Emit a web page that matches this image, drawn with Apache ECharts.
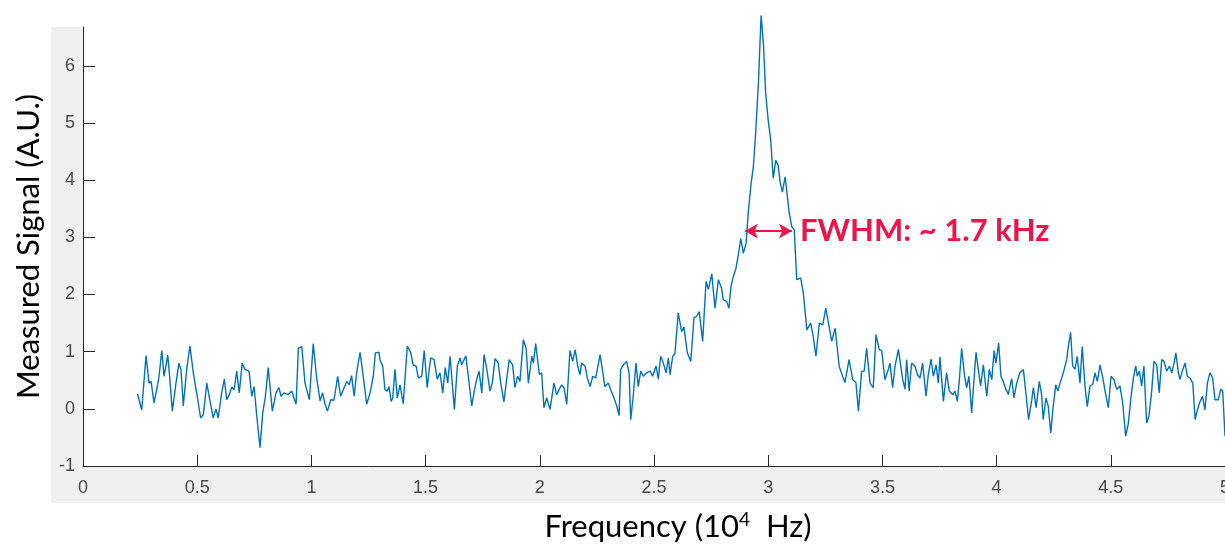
<!DOCTYPE html>
<html>
<head>
<meta charset="utf-8">
<script src="https://cdn.jsdelivr.net/npm/echarts@6/dist/echarts.min.js"></script>
<style>
html,body{margin:0;padding:0;background:#fff;}
#chart{width:1225px;height:546px;}
</style>
</head>
<body>
<div id="chart"></div>
<script>
// Frequency in units of 10^4 Hz
const freq = [
0.239,0.257,0.276,0.289,0.298,0.311,0.325,0.333,0.345,0.355,0.371,0.378,0.391,0.407,0.420,0.429,0.439,0.454,0.468,0.483,
0.500,0.515,0.527,0.542,0.556,0.570,0.582,0.592,0.607,0.619,0.629,0.641,0.651,0.662,0.673,0.684,0.697,0.709,0.727,0.739,
0.749,0.761,0.775,0.787,0.798,0.811,0.829,0.845,0.858,0.867,0.880,0.899,0.914,0.921,0.933,0.943,0.958,0.972,0.991,1.008,
1.023,1.038,1.049,1.060,1.070,1.085,1.099,1.115,1.128,1.140,1.155,1.166,1.176,1.187,1.198,1.213,1.227,1.242,1.257,1.271,
1.280,1.296,1.300,1.312,1.322,1.332,1.340,1.349,1.356,1.366,1.376,1.388,1.402,1.420,1.435,1.446,1.458,1.468,1.483,1.494,
1.507,1.522,1.537,1.551,1.563,1.575,1.586,1.597,1.607,1.626,1.639,1.651,1.658,1.676,1.687,1.702,1.713,1.724,1.734,1.746,
1.756,1.768,1.782,1.792,1.804,1.818,1.829,1.843,1.855,1.866,1.881,1.891,1.903,1.913,1.928,1.940,1.950,1.965,1.972,1.982,
1.998,2.008,2.018,2.030,2.045,2.062,2.074,2.085,2.096,2.106,2.118,2.132,2.144,2.155,2.166,2.176,2.183,2.198,2.208,2.220,
2.232,2.245,2.264,2.275,2.285,2.300,2.310,2.322,2.337,2.347,2.354,2.366,2.380,2.391,2.398,2.409,2.421,2.431,2.442,2.453,
2.468,2.483,2.494,2.509,2.519,2.529,2.541,2.553,2.563,2.570,2.582,2.592,2.606,2.621,2.631,2.646,2.661,2.675,2.687,2.698,
2.713,2.728,2.738,2.753,2.767,2.782,2.796,2.803,2.818,2.828,2.837,2.847,2.859,2.869,2.880,2.891,2.903,2.913,2.925,2.935,
2.945,2.957,2.969,2.979,2.989,3.000,3.011,3.022,3.033,3.044,3.052,3.062,3.074,3.084,3.091,3.103,3.114,3.125,3.142,3.154,
3.169,3.186,3.197,3.209,3.224,3.239,3.252,3.266,3.278,3.293,3.311,3.326,3.336,3.354,3.370,3.384,3.395,3.409,3.420,3.431,
3.446,3.460,3.472,3.486,3.497,3.511,3.526,3.533,3.545,3.555,3.570,3.589,3.599,3.606,3.617,3.628,3.643,3.653,3.665,3.676,
3.691,3.701,3.713,3.723,3.735,3.745,3.752,3.767,3.781,3.793,3.808,3.818,3.828,3.837,3.847,3.859,3.869,3.879,3.891,3.901,
3.910,3.920,3.930,3.942,3.957,3.968,3.979,3.989,3.997,4.009,4.019,4.029,4.041,4.051,4.066,4.076,4.088,4.102,4.117,4.129,
4.140,4.154,4.161,4.173,4.187,4.197,4.204,4.216,4.226,4.237,4.248,4.259,4.268,4.278,4.292,4.307,4.314,4.324,4.333,4.343,
4.353,4.365,4.375,4.387,4.397,4.409,4.421,4.431,4.441,4.453,4.465,4.475,4.489,4.501,4.514,4.526,4.540,4.552,4.565,4.577,
4.587,4.599,4.609,4.616,4.625,4.635,4.645,4.657,4.667,4.679,4.689,4.701,4.712,4.723,4.733,4.745,4.757,4.767,4.777,4.785,
4.796,4.803,4.815,4.825,4.835,4.847,4.859,4.869,4.879,4.891,4.902,4.912,4.923,4.934,4.946,4.956,4.971,4.981,4.990,5.000
];
// Measured signal (A.U.)
const signal = [
0.26,-0.02,0.93,0.45,0.48,0.10,0.39,0.57,1.02,0.57,0.94,0.63,-0.04,0.45,0.80,0.69,0.05,0.69,1.10,0.63,
0.22,-0.16,-0.10,0.45,0.14,-0.16,0.00,-0.16,0.28,0.52,0.16,0.25,0.38,0.34,0.66,0.28,0.80,0.69,0.66,0.22,
0.39,-0.13,-0.68,-0.07,0.20,0.72,-0.04,0.28,0.37,0.22,0.28,0.25,0.31,0.22,0.08,1.06,1.09,0.45,0.16,1.14,
0.54,0.14,0.28,0.08,-0.04,0.16,0.15,0.57,0.22,0.34,0.48,0.42,0.58,0.22,0.63,0.99,0.57,0.08,0.28,0.57,
0.98,0.99,0.86,0.75,0.34,0.31,0.39,0.13,0.19,0.69,0.19,0.42,0.09,1.10,0.98,0.76,0.75,0.54,0.57,1.02,
0.37,0.89,0.86,0.52,0.63,0.28,0.72,0.45,0.92,-0.01,0.75,0.89,0.77,0.93,0.57,0.05,0.31,0.52,0.66,0.28,
0.95,0.69,0.31,0.45,0.88,0.80,0.45,0.12,0.52,0.86,0.77,0.37,0.57,0.48,1.21,1.06,0.45,0.92,0.80,1.14,
0.60,0.63,0.02,0.19,-0.01,0.45,0.25,0.34,0.42,0.37,0.08,1.02,0.83,1.03,0.75,0.60,0.80,0.75,0.54,0.39,
0.57,0.54,0.95,0.66,0.39,0.45,0.34,0.22,0.05,-0.12,0.69,0.77,0.83,0.63,-0.19,0.22,0.80,0.39,0.66,0.57,
0.63,0.66,0.57,0.75,0.52,0.92,0.80,0.63,0.89,0.60,0.92,0.97,1.68,1.35,1.43,0.98,0.83,1.59,1.62,1.70,
1.18,2.23,2.09,2.36,1.76,2.26,2.11,1.91,1.88,1.76,2.14,2.31,2.46,2.69,2.98,2.72,2.89,3.45,3.94,4.23,
4.82,5.69,6.88,6.39,5.51,5.05,4.70,4.03,4.35,4.25,3.97,3.79,4.06,3.71,3.45,3.19,3.13,2.26,2.29,2.02,
1.38,1.50,1.27,0.92,1.50,1.47,1.76,1.45,1.18,1.41,0.74,0.57,0.46,0.86,0.51,0.46,-0.04,0.66,0.66,1.06,
0.45,0.37,1.30,1.04,1.02,0.51,0.69,0.80,0.37,0.74,1.04,0.51,0.34,0.86,0.31,0.80,0.74,0.60,0.54,0.80,
0.22,0.60,0.87,0.57,0.77,0.45,0.91,0.13,0.63,0.31,0.25,0.31,0.13,0.51,1.06,0.60,0.37,0.57,-0.07,0.51,
0.99,0.69,0.40,0.77,0.22,0.69,0.51,1.02,0.80,1.15,0.57,0.48,0.34,0.25,0.53,0.19,0.45,0.63,0.69,0.25,
-0.19,0.16,0.37,0.02,0.48,0.25,-0.19,0.19,0.05,-0.42,0.05,0.42,0.31,0.45,0.63,0.86,1.09,1.34,0.75,0.69,
0.92,0.45,1.09,0.40,0.04,0.40,0.43,0.63,0.48,0.77,0.54,0.31,0.02,0.57,0.51,0.34,0.40,0.11,-0.48,-0.25,
0.16,0.54,0.75,0.57,0.66,0.40,0.75,-0.25,-0.13,0.31,0.83,0.77,0.28,0.86,0.83,0.66,0.75,0.63,0.80,0.98,
0.63,0.51,0.69,0.80,0.57,0.54,0.45,-0.19,-0.02,0.13,0.22,-0.02,0.45,0.63,0.54,0.16,0.16,0.34,0.31,-0.48
];
const xTicks = [0,0.5,1,1.5,2,2.5,3,3.5,4,4.5,5];
const yTicks = [-1,0,1,2,3,4,5,6];
const fwhmStart = 2.898;
const fwhmEnd = 3.104;
const fwhmLevel = 3.11;
const fwhmText = 'FWHM: ~ 1.7 kHz';

const seriesData = freq.map((f, i) => [f, signal[i]]);

const chart = echarts.init(document.getElementById('chart'), null, {renderer: 'canvas'});
const axisColor = '#262626';
const labelColor = '#4a4a4a';
chart.setOption({
  animation: false,
  backgroundColor: '#ffffff',
  graphic: [
    {type: 'rect', z: -10, silent: true, shape: {x: 51, y: 27, width: 32, height: 476}, style: {fill: '#f0f0f0'}},
    {type: 'rect', z: -10, silent: true, shape: {x: 51, y: 466, width: 1174, height: 37}, style: {fill: '#f0f0f0'}}
  ],
  grid: {left: 83, right: 0, top: 27, bottom: 80, containLabel: false, outerBoundsMode: 'none'},
  xAxis: {
    type: 'value',
    min: 0, max: 5, interval: 0.5,
    name: 'Frequency (10{sup|4}  Hz)',
    nameLocation: 'middle',
    nameGap: 44,
    nameMoveOverlap: false,
    nameTextStyle: {
      fontFamily: 'Lato', fontSize: 31, color: '#000',
      padding: [0, 0, 0, 48],
      rich: {sup: {fontFamily: 'Lato', fontSize: 19, color: '#000', verticalAlign: 'top', padding: [0, 0, 14, 0]}}
    },
    axisLine: {show: true, onZero: false, lineStyle: {color: axisColor, width: 1}},
    axisTick: {show: true, inside: true, length: 11, lineStyle: {color: axisColor}, customValues: xTicks},
    axisLabel: {show: true, margin: 13, color: labelColor, fontFamily: 'Liberation Sans', fontSize: 18, customValues: xTicks,
      formatter: v => String(v)},
    splitLine: {show: false}
  },
  yAxis: {
    type: 'value',
    min: -1, max: 6.68, interval: 1,
    name: 'Measured Signal (A.U.)',
    nameLocation: 'middle',
    nameRotate: 90,
    nameGap: 39,
    nameMoveOverlap: false,
    nameTextStyle: {fontFamily: 'Lato', fontSize: 31, color: '#000'},
    axisLine: {show: true, lineStyle: {color: axisColor, width: 1}},
    axisTick: {show: true, inside: true, length: 12, lineStyle: {color: axisColor}, customValues: yTicks},
    axisLabel: {show: true, margin: 8, color: labelColor, fontFamily: 'Liberation Sans', fontSize: 18, customValues: yTicks},
    splitLine: {show: false}
  },
  series: [{
    type: 'line',
    data: seriesData,
    showSymbol: false,
    clip: false,
    lineStyle: {color: '#0072BD', width: 1.4},
    itemStyle: {color: '#0072BD'},
    markLine: {
      silent: true,
      symbol: ['arrow', 'arrow'],
      symbolSize: [11, 13],
      lineStyle: {color: '#EE1449', width: 2, type: 'solid'},
      label: {
        show: true, position: 'end', distance: 8,
        formatter: fwhmText,
        color: '#EE1449', fontFamily: 'Lato', fontWeight: 'bold', fontSize: 31
      },
      data: [[{coord: [fwhmStart, fwhmLevel]}, {coord: [fwhmEnd, fwhmLevel]}]]
    }
  }]
});
</script>
</body>
</html>
